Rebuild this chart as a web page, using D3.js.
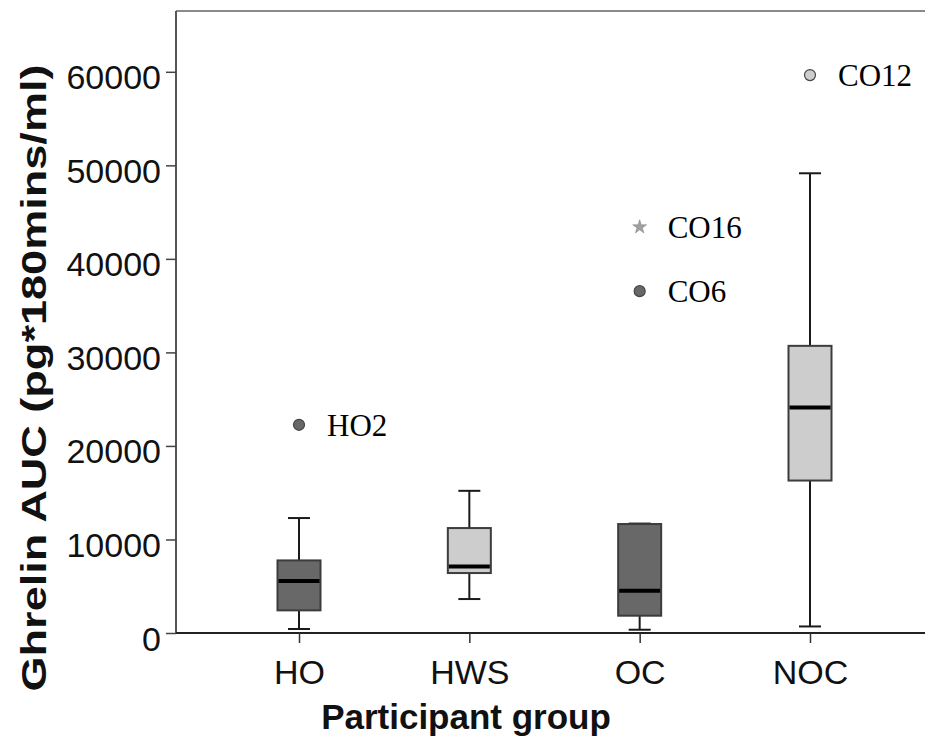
<!DOCTYPE html>
<html>
<head>
<meta charset="utf-8">
<script src="https://cdn.jsdelivr.net/npm/d3@7"></script>
<style>
  html, body { margin: 0; padding: 0; background: #fff; }
  svg { display: block; }
</style>
</head>
<body>
<svg id="chart" width="925" height="751"></svg>
<script>
// Participant groups and their box-plot summaries (pg*180mins/ml)
const groups = ["HO", "HWS", "OC", "NOC"];
const whiskerLow  = [430, 3630, 350, 700];
const q1          = [2420, 6410, 1850, 16300];
const medians     = [5560, 7120, 4520, 24100];
const q3          = [7760, 11220, 11650, 30700];
const whiskerHigh = [12290, 15200, 11700, 49150];
const boxShade    = ["dark", "light", "dark", "light"];

// Labelled outlying participants
const outlierGroup = ["HO", "OC", "OC", "NOC"];
const outlierValue = [22260, 43400, 36550, 59650];
const outlierLabel = ["HO2", "CO16", "CO6", "CO12"];
const outlierMark  = ["circle", "star", "circle", "circle"];
const outlierShade = ["dark", "mid", "dark", "light"];

const yTicks = [0, 10000, 20000, 30000, 40000, 50000, 60000];

const fills = { dark: "#686868", light: "#cdcdcd", mid: "#9a9a9a" };

const svg = d3.select("#chart");
const plotLeft = 176, plotTop = 11, plotBottom = 633, plotRight = 935;

const y = d3.scaleLinear().domain([0, 66500]).range([plotBottom, plotTop]);
const x = d3.scalePoint().domain(groups).range([299, 810]);

const boxW = 43, capW = 22;

// frame line along the top
svg.append("line").attr("x1", plotLeft).attr("x2", plotRight).attr("y1", plotTop).attr("y2", plotTop)
  .attr("stroke", "#8a8a8a").attr("stroke-width", 2);

// y axis
const yAxis = svg.append("g").attr("transform", `translate(${plotLeft},0)`)
  .call(d3.axisLeft(y).tickValues(yTicks).tickSize(10).tickPadding(5).tickFormat(d3.format("d")));
yAxis.select(".domain").attr("stroke", "#555").attr("stroke-width", 2)
  .attr("d", `M0,${plotTop}V${plotBottom}`);
yAxis.selectAll(".tick line").attr("stroke", "#444").attr("stroke-width", 1.5);
yAxis.selectAll(".tick text")
  .attr("font-family", "Liberation Sans, Arial, sans-serif")
  .attr("font-size", 34).attr("fill", "#111").attr("dy", "0.5em");

// x axis
const xAxis = svg.append("g").attr("transform", `translate(0,${plotBottom})`)
  .call(d3.axisBottom(x).tickSize(10).tickPadding(8));
xAxis.select(".domain").attr("stroke", "#222").attr("stroke-width", 2)
  .attr("d", `M${plotLeft},0H${plotRight}`);
xAxis.selectAll(".tick line").attr("stroke", "#333").attr("stroke-width", 1.5);
xAxis.selectAll(".tick text")
  .attr("font-family", "Liberation Sans, Arial, sans-serif")
  .attr("font-size", 34).attr("fill", "#111").attr("dy", "0.98em");

// boxes
const rows = groups.map((g, i) => ({
  g, lo: whiskerLow[i], q1: q1[i], med: medians[i], q3: q3[i], hi: whiskerHigh[i], shade: boxShade[i]
}));
const box = svg.append("g").selectAll("g").data(rows).join("g");

box.append("line").attr("x1", d => x(d.g)).attr("x2", d => x(d.g))
  .attr("y1", d => y(d.hi)).attr("y2", d => y(d.q3)).attr("stroke", "#1a1a1a").attr("stroke-width", 2);
box.append("line").attr("x1", d => x(d.g)).attr("x2", d => x(d.g))
  .attr("y1", d => y(d.q1)).attr("y2", d => y(d.lo)).attr("stroke", "#1a1a1a").attr("stroke-width", 2);
box.append("line").attr("x1", d => x(d.g) - capW / 2).attr("x2", d => x(d.g) + capW / 2)
  .attr("y1", d => y(d.hi)).attr("y2", d => y(d.hi)).attr("stroke", "#1a1a1a").attr("stroke-width", 2);
box.append("line").attr("x1", d => x(d.g) - capW / 2).attr("x2", d => x(d.g) + capW / 2)
  .attr("y1", d => y(d.lo)).attr("y2", d => y(d.lo)).attr("stroke", "#1a1a1a").attr("stroke-width", 2);
box.append("rect")
  .attr("x", d => x(d.g) - boxW / 2).attr("width", boxW)
  .attr("y", d => y(d.q3)).attr("height", d => y(d.q1) - y(d.q3))
  .attr("fill", d => fills[d.shade]).attr("stroke", "#3c3c3c").attr("stroke-width", 2);
box.append("line").attr("x1", d => x(d.g) - boxW / 2 + 1).attr("x2", d => x(d.g) + boxW / 2 - 1)
  .attr("y1", d => y(d.med)).attr("y2", d => y(d.med)).attr("stroke", "#000").attr("stroke-width", 4);

// outliers
const outs = outlierValue.map((v, i) => ({
  g: outlierGroup[i], v, label: outlierLabel[i], mark: outlierMark[i], shade: outlierShade[i]
}));
const og = svg.append("g").selectAll("g").data(outs).join("g")
  .attr("transform", d => `translate(${x(d.g)},${y(d.v)})`);
og.filter(d => d.mark === "circle").append("circle").attr("r", 5.5)
  .attr("fill", d => fills[d.shade]).attr("stroke", "#444").attr("stroke-width", 1.2);
og.filter(d => d.mark === "star").append("path")
  .attr("d", d3.symbol(d3.symbolStar, 60)).attr("fill", "#a0a0a0").attr("stroke", "#8c8c8c").attr("stroke-width", 0.6);
og.append("text").attr("x", 28).attr("y", 11)
  .attr("font-family", "Liberation Serif, Times New Roman, serif")
  .attr("font-size", 31).attr("fill", "#000").text(d => d.label);

// axis titles
svg.append("text").attr("x", 466).attr("y", 729)
  .attr("text-anchor", "middle").attr("font-family", "Liberation Sans, Arial, sans-serif")
  .attr("font-weight", "bold").attr("font-size", 35).attr("fill", "#111").text("Participant group");
svg.append("text").attr("transform", "translate(46,378) rotate(-90)")
  .attr("text-anchor", "middle").attr("font-family", "Liberation Sans, Arial, sans-serif")
  .attr("font-weight", "bold").attr("font-size", 35).attr("fill", "#111")
  .attr("textLength", 627).attr("lengthAdjust", "spacingAndGlyphs")
  .text("Ghrelin AUC (pg*180mins/ml)");
</script>
</body>
</html>
